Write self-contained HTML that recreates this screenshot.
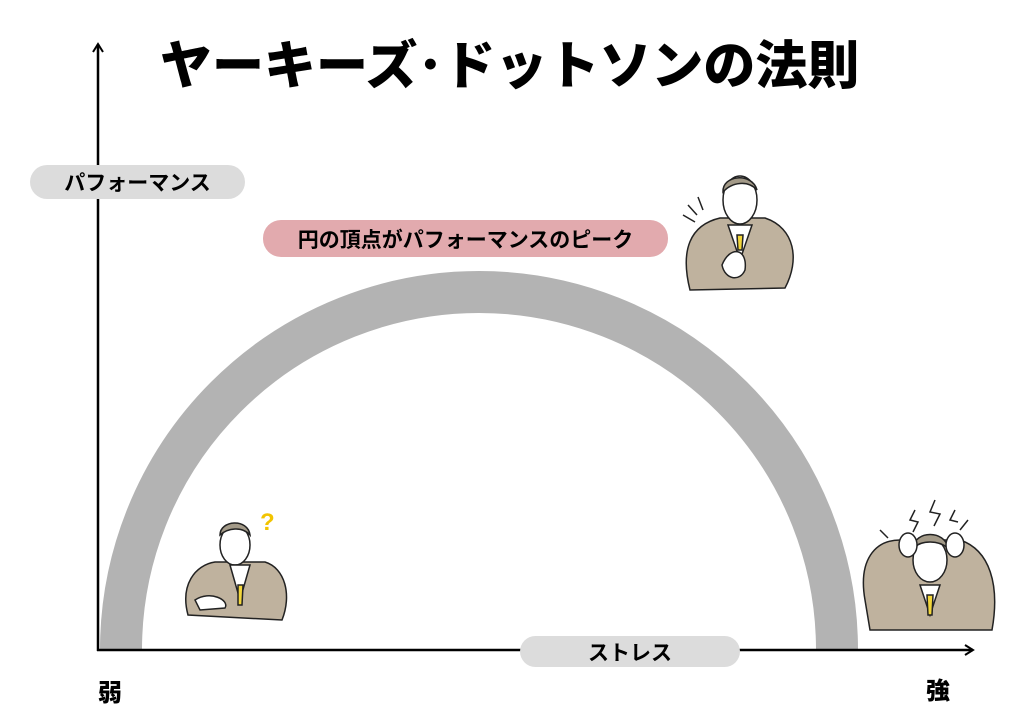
<!DOCTYPE html>
<html><head><meta charset="utf-8"><style>
html,body{margin:0;padding:0;background:#fff;}
body{width:1024px;height:724px;position:relative;overflow:hidden;font-family:"Liberation Sans","Noto Sans CJK JP",sans-serif;}
.t{position:absolute;font-weight:900;color:#000;white-space:nowrap;}
.pill{position:absolute;border-radius:18px;display:flex;align-items:center;justify-content:center;font-weight:700;font-size:21px;color:#000;}
</style></head><body>
<svg width="1024" height="724" style="position:absolute;left:0;top:0">
<defs><marker id="a" markerWidth="12" markerHeight="12" refX="9" refY="6" orient="auto" markerUnits="userSpaceOnUse"><path d="M1,1 L9,6 L1,11" fill="none" stroke="#000" stroke-width="2"/></marker></defs>
<path d="M121,650 A358,358 0 0 1 837,650" fill="none" stroke="#b3b3b3" stroke-width="42"/>
<line x1="98" y1="651" x2="98" y2="44" stroke="#000" stroke-width="2.5" marker-end="url(#a)"/>
<line x1="97" y1="650" x2="973" y2="650" stroke="#000" stroke-width="2.5" marker-end="url(#a)"/>
<g stroke="#222" stroke-width="1.5">
<path d="M690,290 C680,250 690,225 720,218 L765,218 C795,228 800,260 785,288 Z" fill="#bfb29e"/>
<ellipse cx="740" cy="200" rx="17" ry="24" fill="#fff"/>
<path d="M723,192 C722,175 752,172 757,190 C748,180 732,182 723,192Z" fill="#a39a88"/>
<path d="M728,225 L740,260 L752,225 Z" fill="#fff"/>
<path d="M737,235 L743,235 L742,250 L738,250Z" fill="#f2d63a"/>
<path d="M722,265 C730,245 748,248 745,270 C740,282 725,280 722,265Z" fill="#fff"/>
<path d="M683,215 L695,222 M688,205 L697,215 M698,197 L703,210" fill="none"/>
</g>
<g stroke="#222" stroke-width="1.5">
<path d="M188,615 C180,585 195,565 215,562 L265,562 C285,568 292,595 282,620 Z" fill="#bfb29e"/>
<ellipse cx="235" cy="545" rx="15" ry="20" fill="#fff"/>
<path d="M220,535 C220,520 248,518 250,535 C242,526 228,528 220,535Z" fill="#a39a88"/>
<path d="M230,565 L240,600 L250,565 Z" fill="#fff"/>
<path d="M238,585 L243,585 L242,605 L238,605Z" fill="#f2d63a"/>
<path d="M195,600 C210,590 230,600 225,608 L200,610Z" fill="#fff"/>
<text x="260" y="530" font-size="24" fill="#f2c400" stroke="none" font-weight="700">?</text>
</g>
<g stroke="#222" stroke-width="1.5">
<path d="M865,600 C858,560 875,540 900,540 L960,540 C990,550 1000,585 992,630 L870,630 Z" fill="#bfb29e"/>
<ellipse cx="930" cy="560" rx="17" ry="22" fill="#fff"/>
<path d="M913,548 C915,530 945,530 948,548 C938,540 922,540 913,548Z" fill="#a39a88"/>
<path d="M920,585 L930,615 L940,585 Z" fill="#fff"/>
<path d="M927,595 L933,595 L932,615 L928,615Z" fill="#f2d63a"/>
<ellipse cx="908" cy="545" rx="9" ry="12" fill="#fff"/>
<ellipse cx="955" cy="545" rx="9" ry="12" fill="#fff"/>
<path d="M915,510 L910,520 L918,522 L913,532 M935,500 L930,512 L940,514 L934,526 M955,510 L950,520 L958,522 M880,530 L888,538 M968,520 L960,530" fill="none"/>
</g>
</svg>
<div class="t" style="left:160px;top:24px;font-size:52px;letter-spacing:0px;">ヤーキーズ･ドットソンの法則</div>
<div class="pill" style="left:30px;top:165px;width:215px;height:34px;background:#dcdcdc;">パフォーマンス</div>
<div class="pill" style="left:263px;top:220px;width:405px;height:37px;background:#e2aaae;">円の頂点がパフォーマンスのピーク</div>
<div class="pill" style="left:520px;top:636px;width:220px;height:31px;background:#dcdcdc;">ストレス</div>
<div class="t" style="left:98px;top:673px;font-size:24px;">弱</div>
<div class="t" style="left:926px;top:671px;font-size:24px;">強</div>
</body></html>
